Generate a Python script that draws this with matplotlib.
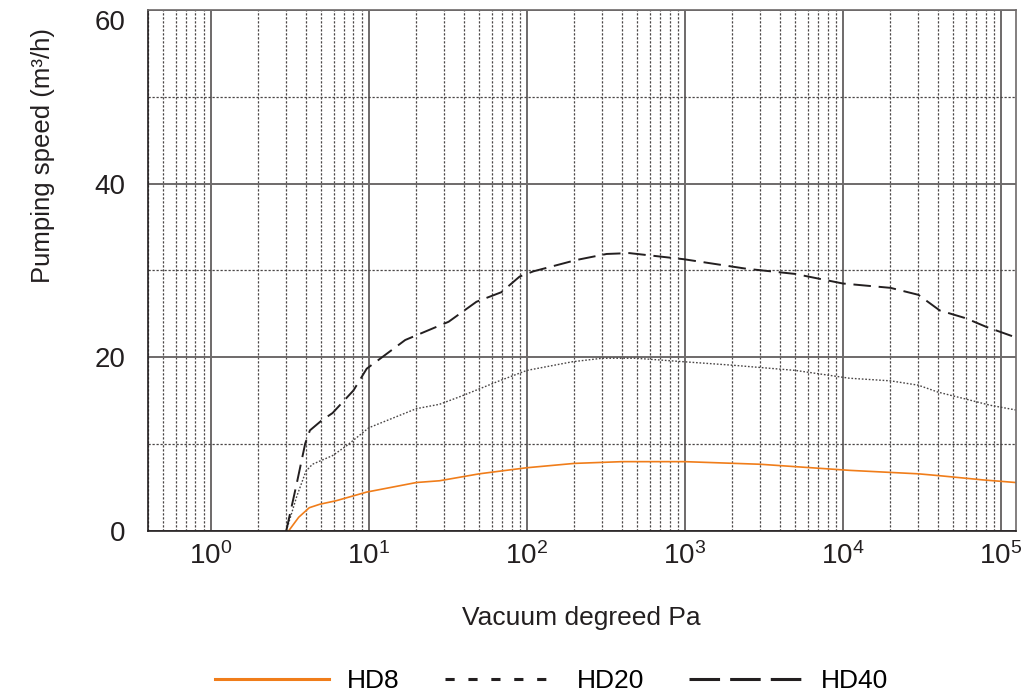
import matplotlib.pyplot as plt
import numpy as np
from matplotlib.lines import Line2D
from matplotlib.ticker import LogLocator, FixedLocator, NullFormatter

plt.rcParams["font.family"] = ["Liberation Sans", "DejaVu Sans"]
plt.rcParams["mathtext.fontset"] = "custom"
plt.rcParams["mathtext.rm"] = "Liberation Sans"
plt.rcParams["mathtext.it"] = "Liberation Sans"

# pressure (Pa) and pumping speed (m3/h)
hd8_p = [3.1, 3.6, 4.2, 4.9, 6.2, 9.7, 20, 28, 50, 67, 100, 200, 400, 1000, 3000, 11000, 30000, 40000, 77000, 124000]
hd8_s = [0.0, 1.6, 2.7, 3.1, 3.5, 4.5, 5.6, 5.8, 6.6, 6.9, 7.3, 7.8, 8.0, 8.0, 7.7, 7.0, 6.6, 6.4, 5.9, 5.6]

hd20_p = [3.0, 3.5, 4.0, 4.4, 5.9, 7.2, 10, 20, 28, 38, 67, 100, 195, 300, 490, 980, 2000, 5000, 11000, 20000, 30000, 40000, 60000, 85000, 124000]
hd20_s = [0.0, 4.0, 6.9, 7.7, 8.7, 9.8, 11.9, 14.1, 14.6, 15.5, 17.3, 18.5, 19.5, 19.9, 19.9, 19.5, 19.1, 18.5, 17.6, 17.3, 16.8, 16.0, 15.2, 14.5, 13.95]

hd40_p = [3.0, 3.5, 3.96, 4.24, 5.0, 5.9, 8.0, 9.7, 17, 32, 48, 69, 90, 110, 205, 320, 445, 980, 2450, 5000, 10000, 20000, 30000, 41000, 60000, 81000, 124000]
hd40_s = [0.0, 5.5, 10.1, 11.6, 12.7, 13.6, 16.2, 18.7, 22.0, 24.1, 26.4, 27.5, 29.3, 29.9, 31.2, 31.9, 32.0, 31.3, 30.2, 29.6, 28.5, 28.0, 27.2, 25.4, 24.5, 23.5, 22.3]

orange = "#f07d1a"
dark = "#231f20"

fig = plt.figure(figsize=(10.27, 6.98), dpi=100)
ax = fig.add_axes([0.144, 0.239, 0.845, 0.747])

ax.set_xscale("log")
ax.set_xlim(0.4, 1.24e5)
ax.set_ylim(0, 60)

# grid: solid at decades / 20s, dashed at minor positions / 10s
ax.xaxis.set_major_locator(LogLocator(base=10, numticks=20))
ax.xaxis.set_minor_locator(LogLocator(base=10, subs=np.arange(2, 10), numticks=20))
ax.xaxis.set_minor_formatter(NullFormatter())
ax.yaxis.set_major_locator(FixedLocator([0, 20, 40, 60]))
ax.yaxis.set_minor_locator(FixedLocator([10, 30, 50]))
ax.grid(which="major", color="#6e6a6a", linewidth=1.4, linestyle="-")
ax.grid(which="minor", color="#4a4646", linewidth=0.9, linestyle=(0, (1.8, 1.4)))
ax.tick_params(which="both", length=0, labelsize=20, colors=dark)
ax.tick_params(axis="y", pad=16)
ax.tick_params(axis="x", pad=8)
ax.set_axisbelow(True)

for side in ["left", "bottom"]:
    ax.spines[side].set_color(dark)
    ax.spines[side].set_linewidth(1.2)
for side in ["top", "right"]:
    ax.spines[side].set_color("#6e6a6a")
    ax.spines[side].set_linewidth(1.2)

ax.plot(hd8_p, hd8_s, color=orange, linewidth=1.2)
ax.plot(hd20_p, hd20_s, color="#4a4646", linewidth=1.0, linestyle=(0, (1.2, 1.3)))
ax.plot(hd40_p, hd40_s, color=dark, linewidth=1.4, linestyle=(0, (9, 4)))

ax.set_xlabel("Vacuum degreed Pa", fontsize=19, color=dark, labelpad=26)
ax.set_ylabel("Pumping speed (m³/h)", fontsize=18.5, color=dark)
ax.yaxis.set_label_coords(-0.107, 0.72)

fig.canvas.draw()
ax.get_yticklabels()[-1].set_va("top")

handles = [
    Line2D([], [], color=orange, linewidth=2.2),
    Line2D([], [], color=dark, linewidth=2.2, linestyle=(0, (3, 4.5))),
    Line2D([], [], color=dark, linewidth=2.2, linestyle=(0, (10, 3.3))),
]
fig.legend(handles, ["HD8", "HD20", "HD40"], loc="lower center", bbox_to_anchor=(0.537, -0.027),
           ncol=3, frameon=False, fontsize=19, handlelength=4.3, handletextpad=0.7, columnspacing=1.7)

fig.savefig("out.png", dpi=100)
